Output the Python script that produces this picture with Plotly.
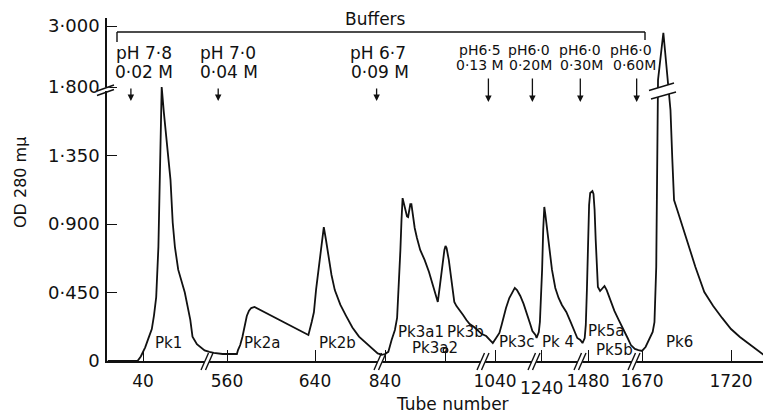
import plotly.graph_objects as go

# ---------------- data ----------------
# OD 280 mu elution profile, tube numbers (broken axis) and absorbance
tube = [
    # segment 40
    8, 35, 38, 42, 45, 48, 50, 52, 54, 55, 56, 57, 59, 62, 65, 67, 69, 72, 78, 83, 85, 89, 94, 96,
    # segment 560-640
    544, 548, 556, 569, 570, 572, 574, 576, 578, 580, 582, 585, 634, 637, 639, 641, 643, 645, 647,
    648, 650, 652, 655, 658, 663, 668, 674, 680, 686, 692, 697, 699,
    # segment 840
    837, 840, 843, 846, 849, 851, 853, 854, 855, 856, 858, 860, 861, 862, 863, 864, 865, 867, 869,
    872, 876, 880, 884, 888, 890, 892, 894, 895, 896, 898, 900, 902, 903, 905, 908, 911, 914, 917,
    921, 925, 928,
    # segment 1040
    1032, 1035, 1038, 1041, 1044, 1046, 1048, 1050, 1053, 1056, 1058, 1060, 1063, 1066, 1069, 1072, 1074,
    # segment 1240
    1235, 1236, 1238, 1239, 1240, 1241, 1242, 1243, 1244, 1246, 1248, 1250, 1253, 1256, 1259, 1263,
    1267, 1271, 1273,
    # segment 1480
    1473, 1475, 1477, 1478, 1479, 1480, 1481, 1482, 1484, 1485, 1486, 1487, 1488, 1489, 1491, 1493,
    1495, 1497, 1500, 1504, 1508, 1512, 1516, 1519,
    # segment 1670-1720
    1666, 1668, 1670, 1672, 1674, 1676, 1677, 1678, 1679, 1680, 1681, 1682, 1683, 1684, 1685, 1686,
    1687, 1688, 1690, 1692, 1695, 1700, 1705, 1710, 1715, 1720, 1725, 1730, 1735, 1740, 1743,
]
od = [
    0, 0, 0.03, 0.09, 0.15, 0.21, 0.30, 0.42, 0.75, 1.19, 1.60, 1.80, 1.63, 1.41, 1.19, 0.91, 0.75,
    0.60, 0.45, 0.27, 0.16, 0.11, 0.085, 0.07,
    0.06, 0.053, 0.046, 0.046, 0.072, 0.105, 0.158, 0.23, 0.296, 0.33, 0.348, 0.355, 0.171, 0.256,
    0.32, 0.47, 0.58, 0.70, 0.83, 0.88, 0.795, 0.696, 0.565, 0.466, 0.37, 0.30, 0.22, 0.16, 0.12,
    0.08, 0.05, 0.045,
    0.04, 0.046, 0.06, 0.138, 0.204, 0.283, 0.532, 0.73, 0.926, 1.07, 1.01, 0.95, 0.946, 1.005,
    1.03, 1.03, 0.97, 0.874, 0.81, 0.73, 0.664, 0.585, 0.486, 0.388, 0.50, 0.63, 0.73, 0.756, 0.742,
    0.664, 0.565, 0.453, 0.388, 0.361, 0.335, 0.302, 0.269, 0.243, 0.223, 0.197, 0.177,
    0.164, 0.138, 0.118, 0.151, 0.184, 0.237, 0.296, 0.348, 0.414, 0.46, 0.48, 0.466, 0.427, 0.375,
    0.315, 0.243, 0.197,
    0.171, 0.151, 0.19, 0.256, 0.40, 0.598, 0.861, 1.012, 0.96, 0.83, 0.70, 0.598, 0.48, 0.414,
    0.368, 0.322, 0.256, 0.184, 0.151,
    0.138, 0.118, 0.151, 0.237, 0.466, 0.795, 1.025, 1.104, 1.117, 1.097, 0.992, 0.795, 0.598,
    0.486, 0.46, 0.48, 0.493, 0.466, 0.401, 0.329, 0.269, 0.204, 0.151, 0.105,
    0.079, 0.072, 0.066, 0.092, 0.138, 0.191, 0.256, 0.618, 1.94, 2.29, 2.63, 2.87, 2.49, 2.10,
    1.78, 1.649, 1.334, 1.058, 0.986, 0.913, 0.808, 0.618, 0.453, 0.361, 0.283, 0.21, 0.158, 0.112,
    0.066, 0.026, 0,
]

x_tick_tubes = [40, 560, 640, 840, 1040, 1240, 1480, 1670, 1720]
x_tick_text = ["40", "560", "640", "840", "1040", "1240", "1480", "1670", "1720"]
marked_tube = 895  # Pk3a2 marker on the axis

y_tick_values = [0, 0.45, 0.90, 1.35, 1.80, 3.00]
y_tick_text = ["0", "0·450", "0·900", "1·350", "1·800", "3·000"]

buffer_ph = ["pH 7·8", "pH 7·0", "pH 6·7", "pH6·5", "pH6·0", "pH6·0", "pH6·0"]
buffer_conc = ["0·02 M", "0·04 M", "0·09 M", "0·13 M", "0·20M", "0·30M", "0·60M"]
buffer_tubes = [29, 552, 696, 1034, 1074, 1473, 1667]

peak_names = ["Pk1", "Pk2a", "Pk2b", "Pk3a1", "Pk3a2", "Pk3b", "Pk3c", "Pk 4", "Pk5a", "Pk5b", "Pk6"]

# ---------------- broken-axis scales (layout) ----------------
# (first tube of segment, anchor tube, anchor position, position units per tube)
SEGMENTS = [
    (0, 40, 143, 1.1), (500, 560, 227, 1.1), (800, 840, 385, 1.1), (1000, 1040, 495, 1.1),
    (1200, 1240, 541, 1.1), (1400, 1480, 588, 1.1), (1600, 1670, 642, 1.78),
]


def xpos(t):
    seg = [s for s in SEGMENTS if s[0] <= t][-1]
    return seg[2] + (t - seg[1]) * seg[3]


def ypos(v):  # y axis broken at 1.800, compressed above
    return v if v <= 1.8 else 1.8 + (v - 1.8) / 3.0


# plot area geometry in window pixels (page body has an 8 px margin)
OFF = 8
L, R, T, B = 107, 771, 18, 361
W, H = 771 - OFF, 414 - OFF
PXU = 152.2  # pixels per OD unit below the break


def PX(px):
    return (px - L) / (R - L)


def PY(py):
    return (B - py) / (B - T)


FONT = "DejaVu Sans"
BLACK = "#111111"

fig = go.Figure()
fig.add_trace(go.Scatter(
    x=[xpos(t) for t in tube], y=[ypos(v) for v in od], mode="lines",
    line=dict(color=BLACK, width=1.8), cliponaxis=False, hoverinfo="skip", showlegend=False,
))

shapes = []


def seg(x0, y0, x1, y1, w=1.4, color=BLACK):
    shapes.append(dict(type="line", xref="paper", yref="paper", x0=PX(x0), y0=PY(y0),
                       x1=PX(x1), y1=PY(y1), line=dict(color=color, width=w)))


def rect_white(x0, y0, x1, y1):
    shapes.append(dict(type="rect", xref="paper", yref="paper", x0=PX(x0), y0=PY(y0),
                       x1=PX(x1), y1=PY(y1), fillcolor="white", line=dict(width=0)))


# x-axis breaks
for c in [207, 380, 483, 534, 580, 634]:
    rect_white(c - 2.2, 364, c + 2.2, 358)
    seg(c - 6, 370, c + 1.5, 353)
    seg(c - 1.5, 370, c + 6, 353)

# y-axis break at 1.800
rect_white(104.5, 91, 109.5, 87.5)
seg(97, 91, 114, 85)
seg(97, 95.5, 114, 89.5)

# break across peak 6
shapes.append(dict(type="path", xref="paper", yref="paper",
                   path=f"M{PX(649)},{PY(90.5)} L{PX(674)},{PY(83)} L{PX(676)},{PY(92)} L{PX(651)},{PY(99)} Z",
                   fillcolor="white", line=dict(width=0)))
seg(649, 90.5, 674, 83)
seg(651, 99, 676, 92)

# buffers bracket
seg(117, 32, 645, 32)
seg(117, 32, 117, 42)
seg(645, 32, 645, 40)

# Pk3a2 lollipop marker
mx = xpos(marked_tube)
shapes.append(dict(type="circle", xref="paper", yref="paper", x0=PX(mx - 2.3), x1=PX(mx + 2.3),
                   y0=PY(352.5), y1=PY(347.9), fillcolor="white", line=dict(color=BLACK, width=1.3)))

annotations = []


def text(px, py, s, size=17, angle=0):
    annotations.append(dict(x=PX(px), y=PY(py), xref="paper", yref="paper", text=s, showarrow=False,
                            xanchor="center", yanchor="middle", textangle=angle,
                            font=dict(family=FONT, size=size, color=BLACK)))


text(375, 19, "Buffers", 17)

ph_centers = [144, 228, 378, 480, 529, 580, 631]
conc_centers = [144, 229, 380, 480, 530, 581, 634]
for i, (ph, conc, tb) in enumerate(zip(buffer_ph, buffer_conc, buffer_tubes)):
    big = i < 3
    size = 17 if big else 14
    text(ph_centers[i], 53 if big else 50, ph, size)
    text(conc_centers[i], 72 if big else 65, conc, size)
    tip = 101 if big else 102
    annotations.append(dict(x=xpos(tb), y=PY(tip), xref="x", yref="paper", text="", showarrow=True,
                            ax=0, ay=-(14 if big else 25), arrowhead=2, arrowsize=1.0, arrowwidth=1.3,
                            arrowcolor=BLACK))

peak_label_px = [(168, 343), (262, 343), (337, 343), (421, 332), (435, 348), (465, 332),
                 (517, 342), (558, 342), (606, 331), (614, 350), (679, 342)]
for name, (px, py) in zip(peak_names, peak_label_px):
    text(px, py, name, 15)

text(541, 388, x_tick_text[5], 17)
text(452, 404, "Tube number", 17)
text(20, 183, "OD 280 mμ", 16, angle=-90)

tick_text_axis = [t if t != x_tick_text[5] else "" for t in x_tick_text]

fig.update_layout(
    width=W, height=H, margin=dict(l=L - OFF, r=W - (R - OFF), t=T - OFF, b=H - (B - OFF)),
    paper_bgcolor="white", plot_bgcolor="white", showlegend=False,
    font=dict(family=FONT, color=BLACK),
    shapes=shapes, annotations=annotations,
    xaxis=dict(range=[L, R], showgrid=False, zeroline=False, showline=True, linecolor=BLACK, linewidth=1.5,
               ticks="inside", ticklen=11, tickwidth=1.3, tickcolor=BLACK,
               tickvals=[xpos(t) for t in x_tick_tubes] + [mx], ticktext=tick_text_axis + [""],
               tickfont=dict(family=FONT, size=17, color=BLACK), ticklabelstandoff=4),
    yaxis=dict(range=[0, (B - T) / PXU], showgrid=False, zeroline=False, showline=True, linecolor=BLACK,
               linewidth=1.5, ticks="inside", ticklen=10, tickwidth=1.3, tickcolor=BLACK,
               tickvals=[ypos(v) for v in y_tick_values], ticktext=y_tick_text,
               tickfont=dict(family=FONT, size=18, color=BLACK), ticklabelstandoff=2),
)

fig.write_html("out.html")
